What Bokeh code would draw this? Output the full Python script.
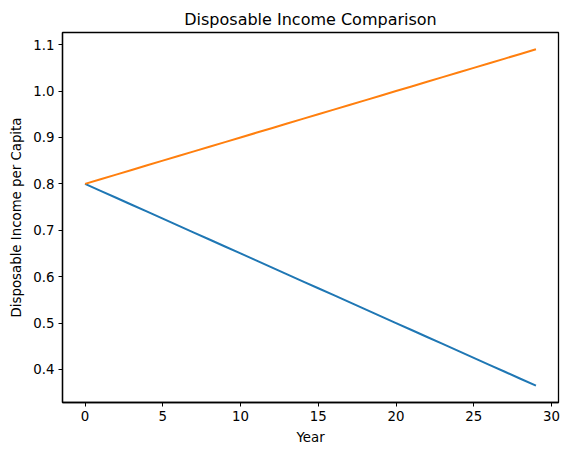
from bokeh.plotting import figure
from bokeh.models import FixedTicker, Range1d
from bokeh.embed import file_html
from bokeh.resources import INLINE

years = list(range(30))
income_a = [0.800, 0.785, 0.770, 0.755, 0.740, 0.725, 0.710, 0.695, 0.680, 0.665,
            0.650, 0.635, 0.620, 0.605, 0.590, 0.575, 0.560, 0.545, 0.530, 0.515,
            0.500, 0.485, 0.470, 0.455, 0.440, 0.425, 0.410, 0.395, 0.380, 0.365]
income_b = [0.80, 0.81, 0.82, 0.83, 0.84, 0.85, 0.86, 0.87, 0.88, 0.89,
            0.90, 0.91, 0.92, 0.93, 0.94, 0.95, 0.96, 0.97, 0.98, 0.99,
            1.00, 1.01, 1.02, 1.03, 1.04, 1.05, 1.06, 1.07, 1.08, 1.09]
xticks = [0, 5, 10, 15, 20, 25, 30]
yticks = [0.4, 0.5, 0.6, 0.7, 0.8, 0.9, 1.0, 1.1]
ytick_labels = ["0.4", "0.5", "0.6", "0.7", "0.8", "0.9", "1.0", "1.1"]

FONT = "DejaVu Sans"

p = figure(width=561, height=447, output_backend="svg", toolbar_location=None,
           title="Disposable Income Comparison",
           x_range=Range1d(-1.45, 30.45), y_range=Range1d(0.32875, 1.12625),
           min_border_left=62, min_border_right=3, min_border_top=32, min_border_bottom=45)

p.line(years, income_a, line_color="#1f77b4", line_width=2)
p.line(years, income_b, line_color="#ff7f0e", line_width=2)

p.title.align = "center"
p.title.text_font = FONT
p.title.text_font_size = "16px"
p.title.text_font_style = "normal"
p.title.text_color = "black"
p.title.standoff = 8

p.grid.visible = False
p.outline_line_color = "black"
p.outline_line_width = 1.3
p.outline_line_alpha = 1

p.xaxis.ticker = FixedTicker(ticks=xticks)
p.yaxis.ticker = FixedTicker(ticks=yticks)
p.yaxis.major_label_overrides = {t: l for t, l in zip(yticks, ytick_labels)}
p.xaxis.axis_label = "Year"
p.yaxis.axis_label = "Disposable Income per Capita"

for ax in (p.xaxis, p.yaxis):
    ax.axis_line_color = "black"
    ax.axis_line_width = 1.3
    ax.major_tick_line_color = "black"
    ax.major_tick_in = 0
    ax.major_tick_out = 4
    ax.minor_tick_line_color = None
    ax.major_label_text_font = FONT
    ax.major_label_text_font_size = "13.33px"
    ax.major_label_text_color = "black"
    ax.axis_label_text_font = FONT
    ax.axis_label_text_font_size = "13.33px"
    ax.axis_label_text_font_style = "normal"
    ax.axis_label_text_color = "black"
    ax.major_label_standoff = 4
    ax.axis_label_standoff = 6

open("out.html", "w").write(file_html(p, INLINE))
